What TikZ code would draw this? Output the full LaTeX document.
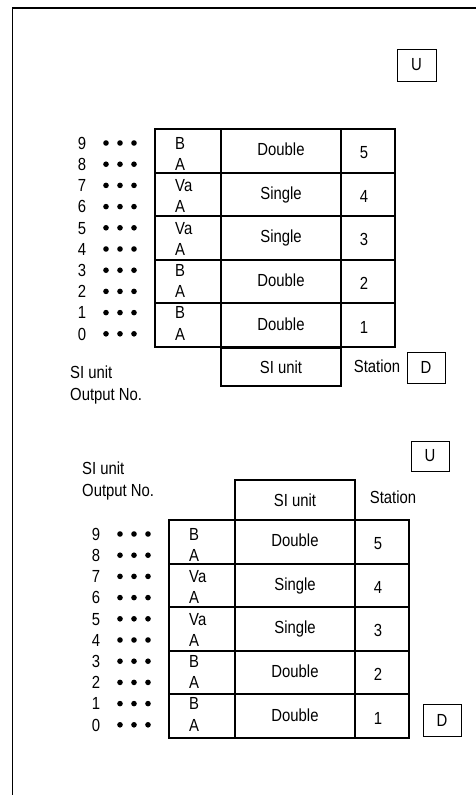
\documentclass[tikz,border=0pt]{standalone}
\usepackage{fontspec}
\setmainfont{Liberation Sans}[FakeStretch=0.85]
\begin{document}
\begin{tikzpicture}[x=1pt,y=-1pt,
  every node/.style={font=\fontsize{17.5}{20}\selectfont},
  tbl/.style={line width=2pt},
  thinbox/.style={draw,line width=1pt,inner sep=0pt},
  frame/.style={line width=1.4pt},
  txt/.style={inner sep=0pt,anchor=base},
  lbl/.style={inner sep=0pt,anchor=base west},
  dot/.style={fill=black}]
\useasboundingbox (0,0) rectangle (475,795);
\draw[frame] (12.5,795) -- (12.5,8) -- (476,8);

\newcommand\DiagTable[1]{%
  \draw[tbl] (0,0) rectangle (240,218);
  \foreach \k in {1,...,4} \draw[tbl] (0,{43.6*\k}) -- (240,{43.6*\k});
  \draw[tbl] (66,0) -- (66,218);
  \draw[tbl] (186,0) -- (186,218);
  \foreach \n [count=\k from 0] in {9,8,7,6,5,4,3,2,1,0}{%
    \node[txt] (#1-d\n) at (-73,{20.3+21.2*\k}) {\n};
    \foreach \xx in {-49,-35,-21} \fill[dot] (\xx,{14+21.2*\k}) circle[radius=2.8pt];
  }
  \foreach \s [count=\k from 0] in {B,A,Va,A,Va,A,B,A,B,A}
    \node[lbl] (#1-l\k) at (20,{20.3+21.2*\k}) {\s};
  \foreach \s/\n [count=\k from 0] in {Double/5,Single/4,Single/3,Double/2,Double/1}{%
    \node[txt] (#1-m\k) at (126,{26.6+43.6*\k}) {\s};
    \node[txt] (#1-s\k) at (209,{29.6+43.6*\k}) {\n};
  }
}

% ---------- upper diagram ----------
\begin{scope}[shift={(155,129)}]
  \DiagTable{t}
\end{scope}
\node[thinbox,minimum width=39pt,minimum height=32pt] (tU) at (416.5,65) {U};
\node[draw,tbl,inner sep=0pt,minimum width=120pt,minimum height=38pt] (tSI) at (281,367) {SI unit};
\node[inner sep=0pt] (tSt) at (377,366) {Station};
\node[thinbox,minimum width=38pt,minimum height=31pt] (tD) at (426,367.5) {D};
\node[lbl] (tSIl) at (70,378.3) {SI unit};
\node[lbl] (tOut) at (70,400.3) {Output No.};

% ---------- lower diagram ----------
\begin{scope}[shift={(169,520)}]
  \DiagTable{b}
\end{scope}
\node[thinbox,minimum width=38pt,minimum height=30pt] (bU) at (430,456) {U};
\node[draw,tbl,inner sep=0pt,minimum width=120pt,minimum height=40pt] (bSI) at (295,500) {SI unit};
\node[inner sep=0pt] (bSt) at (393,497) {Station};
\node[thinbox,minimum width=38pt,minimum height=32pt] (bD) at (442,720) {D};
\node[lbl] (bSIl) at (82,474.3) {SI unit};
\node[lbl] (bOut) at (82,496.3) {Output No.};
\end{tikzpicture}
\end{document}
